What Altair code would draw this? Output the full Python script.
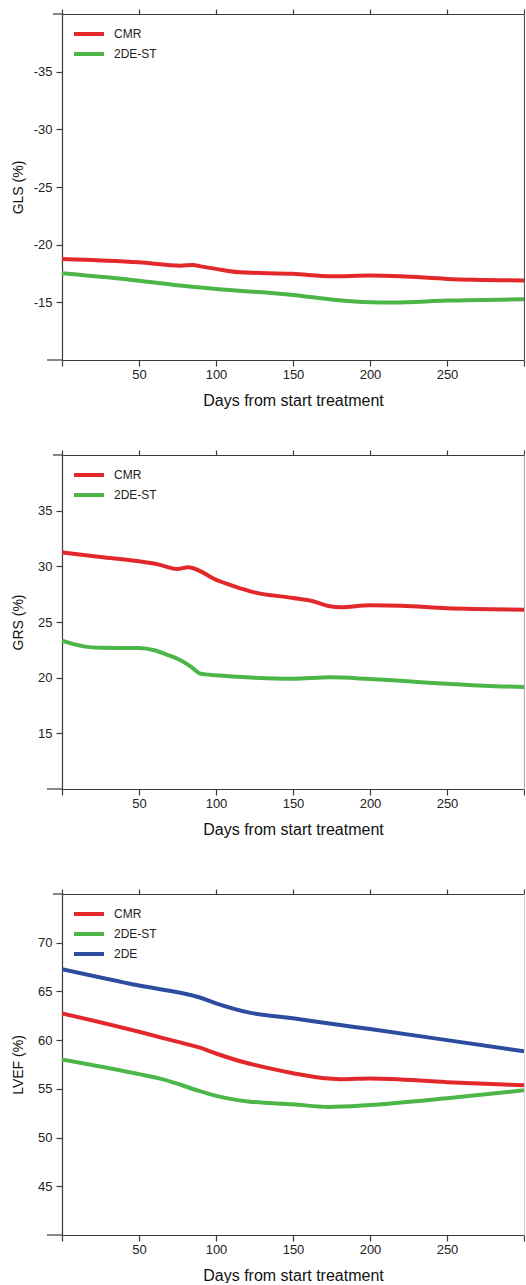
import altair as alt
import pandas as pd

FONT = "Liberation Sans"
RED, GREEN, BLUE = "#e3282c", "#4cb748", "#2b4c9f"
AXIS_DARK = "#3a3a3a"

# ---- GLS (%) ----
gls_cmr_days = [0, 50, 77, 85, 90, 100, 116, 150, 175, 200, 220, 250, 300]
gls_cmr = [-18.76, -18.47, -18.18, -18.24, -18.12, -17.9, -17.6, -17.47, -17.26, -17.32, -17.26, -17.03, -16.9]
gls_st_days = [0, 50, 77, 100, 150, 175, 200, 215, 250, 300]
gls_st = [-17.52, -16.88, -16.45, -16.16, -15.64, -15.24, -15.0, -14.98, -15.15, -15.27]

# ---- GRS (%) ----
grs_cmr_days = [0, 25, 50, 63, 75, 82, 90, 99, 112, 125, 150, 163, 174, 181, 200, 220, 250, 300]
grs_cmr = [31.26, 30.84, 30.45, 30.15, 29.76, 29.91, 29.55, 28.86, 28.2, 27.66, 27.16, 26.86, 26.41, 26.32, 26.5, 26.47, 26.23, 26.11]
grs_st_days = [0, 14, 25, 50, 60, 68, 77, 84, 90, 100, 125, 150, 174, 200, 250, 274, 300]
grs_st = [23.32, 22.81, 22.69, 22.66, 22.46, 22.07, 21.56, 20.96, 20.36, 20.21, 20.0, 19.91, 20.03, 19.88, 19.46, 19.28, 19.16]

# ---- LVEF (%) ----
lvef_2de_days = [0, 50, 89, 100, 121, 150, 176, 200, 250, 300]
lvef_2de = [67.28, 65.6, 64.4, 63.78, 62.85, 62.24, 61.65, 61.14, 60.0, 58.85]
lvef_cmr_days = [0, 50, 74, 89, 100, 117, 132, 150, 173, 182, 200, 250, 300]
lvef_cmr = [62.75, 60.86, 59.87, 59.25, 58.63, 57.78, 57.2, 56.61, 56.06, 55.99, 56.06, 55.69, 55.36]
lvef_st_days = [0, 50, 65, 89, 100, 121, 150, 173, 200, 250, 300]
lvef_st = [58.02, 56.51, 56.0, 54.79, 54.28, 53.7, 53.42, 53.15, 53.35, 54.04, 54.85]

x_ticks = [0, 50, 100, 150, 200, 250, 300]
PLOT_W = 462


def series(days, vals, name):
    return pd.DataFrame({"day": days, "value": vals, "method": name})


def panel(frames, names, colors, y_domain, y_reverse, y_ticks, y_title, height,
          right_color):
    df = pd.concat(frames, ignore_index=True)
    x_scale = alt.Scale(domain=[0, 300], nice=False, zero=False)
    y_scale = alt.Scale(domain=y_domain, nice=False, zero=False, reverse=y_reverse)

    lines = alt.Chart(df).mark_line(
        strokeWidth=4, interpolate="monotone", clip=True
    ).encode(
        x=alt.X("day:Q", scale=x_scale, axis=alt.Axis(
            values=x_ticks, orient="bottom", tickSize=6, labelPadding=2,
            labelExpr="datum.value == 0 || datum.value == 300 ? '' : datum.label",
            title="Days from start treatment", titleFontSize=16, titlePadding=11)),
        y=alt.Y("value:Q", scale=y_scale, axis=alt.Axis(
            values=y_ticks, orient="left", tickSize=6, labelPadding=4,
            labelExpr="replace(datum.label, '\u2212', '-')",
            title=y_title, titleFontSize=14, titlePadding=7,
            minExtent=30, maxExtent=30)),
        color=alt.Color("method:N",
                        scale=alt.Scale(domain=names, range=colors),
                        sort=names,
                        legend=alt.Legend(
                            title=None, orient="none", legendX=15, legendY=8,
                            symbolType="M-1.5,0H1.5", symbolSize=400,
                            symbolStrokeWidth=4, labelFontSize=12,
                            labelOffset=13, rowPadding=0, padding=0,
                            labelColor="#222", labelFont=FONT)),
        detail="method:N",
    )

    # Frame: unlabeled top axis with ticks and a plain right border
    frame = alt.Chart(df).mark_line(opacity=0).encode(
        x=alt.X("day:Q", scale=x_scale, axis=alt.Axis(
            values=x_ticks, orient="top", tickSize=5, labels=False, title=None)),
        y=alt.Y("value:Q", scale=y_scale, axis=alt.Axis(
            orient="right", ticks=False, labels=False, title=None,
            domainColor=right_color)),
    )

    # short extensions of the top and bottom axis lines past the left axis
    stub_src = alt.Data(values=[{}])
    stub_top = alt.Chart(stub_src).mark_rule(color=AXIS_DARK, strokeWidth=1.2).encode(
        x=alt.value(-9), x2=alt.value(0), y=alt.value(0))
    stub_bottom = alt.Chart(stub_src).mark_rule(color=AXIS_DARK, strokeWidth=1.2).encode(
        x=alt.value(-15), x2=alt.value(0), y=alt.value(height))

    return alt.layer(lines, frame, stub_top, stub_bottom).resolve_axis(
        x="independent", y="independent"
    ).properties(width=PLOT_W, height=height)


gls = panel(
    [series(gls_cmr_days, gls_cmr, "CMR"), series(gls_st_days, gls_st, "2DE-ST")],
    ["CMR", "2DE-ST"], [RED, GREEN],
    [-40, -10], True, [-35, -30, -25, -20, -15], "GLS (%)", 346, "#555555")

grs = panel(
    [series(grs_cmr_days, grs_cmr, "CMR"), series(grs_st_days, grs_st, "2DE-ST")],
    ["CMR", "2DE-ST"], [RED, GREEN],
    [10, 40], False, [15, 20, 25, 30, 35], "GRS (%)", 334, "#b0b0b0")

lvef = panel(
    [series(lvef_cmr_days, lvef_cmr, "CMR"), series(lvef_st_days, lvef_st, "2DE-ST"),
     series(lvef_2de_days, lvef_2de, "2DE")],
    ["CMR", "2DE-ST", "2DE"], [RED, GREEN, BLUE],
    [40, 75], False, [45, 50, 55, 60, 65, 70], "LVEF (%)", 341, "#d0d0d0")

upper = alt.vconcat(gls, grs, spacing=41).resolve_scale(
    y="independent", color="independent")

chart = alt.vconcat(upper, lvef, spacing=51).resolve_scale(
    y="independent", color="independent"
).properties(
    padding={"left": 11, "top": 8, "right": 0, "bottom": 0}
).configure(
    font=FONT, background="white"
).configure_view(
    stroke=None
).configure_axis(
    grid=False, labelFont=FONT, titleFont=FONT, labelFontSize=13,
    labelColor="#222", titleColor="#111", titleFontWeight="normal",
    domainColor=AXIS_DARK, tickColor=AXIS_DARK, domainWidth=1.2, tickWidth=1.2,
)

chart.save("out.html", embed_options={"renderer": "svg", "actions": False})
